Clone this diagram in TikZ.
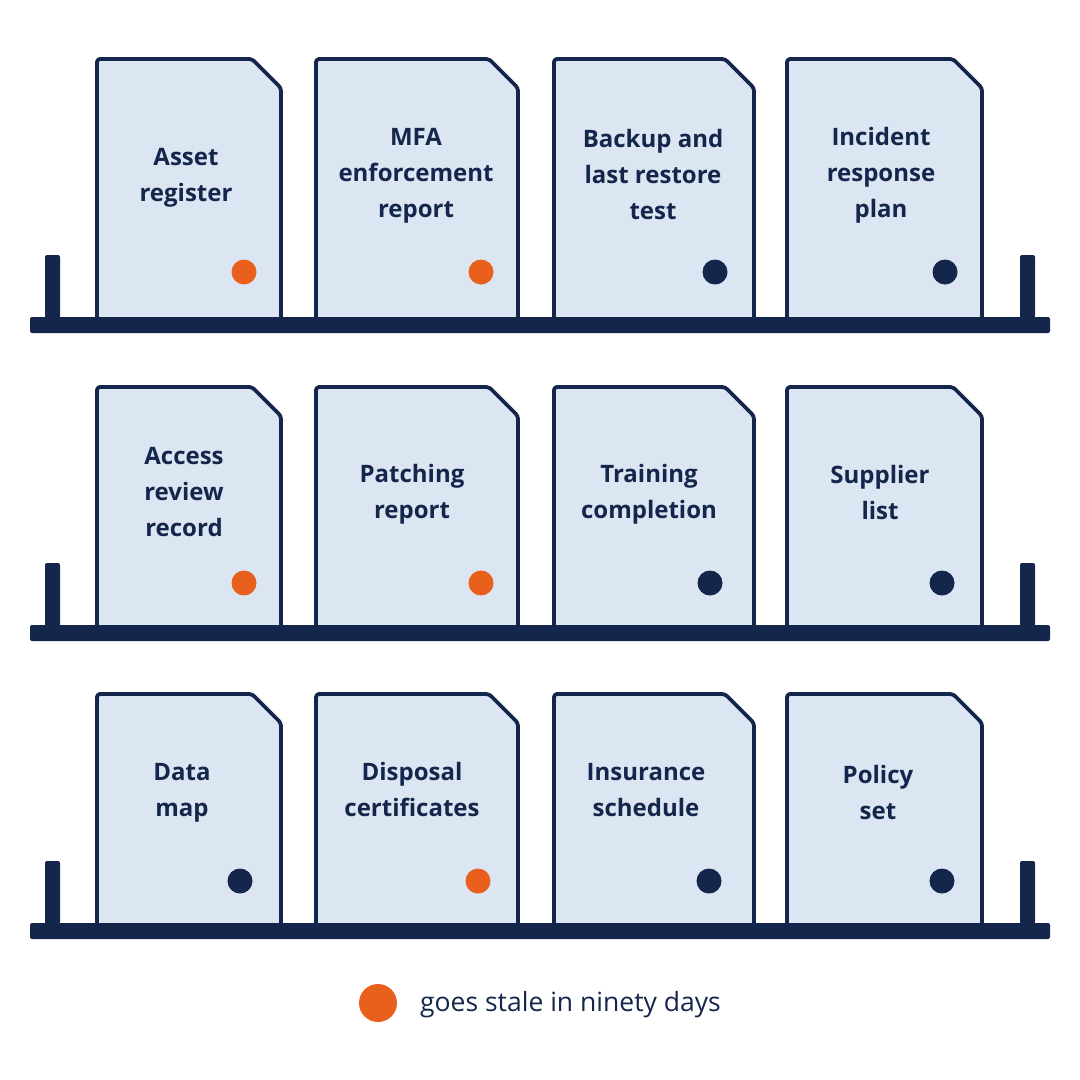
\documentclass[tikz,border=0pt]{standalone}
\usepackage{fontspec}
\setmainfont{Open Sans}
\definecolor{navy}{HTML}{14264B}
\definecolor{paper}{HTML}{DCE6F2}
\definecolor{stale}{HTML}{E8601C}
\begin{document}
\begin{tikzpicture}[x=1pt,y=-1pt,
  docframe/.style={draw=navy,fill=paper,line width=3.8pt,rounded corners=3pt,line join=round},
  doctext/.style={font=\bfseries\fontsize{24}{36}\selectfont,text=navy,align=center,inner sep=0pt},
  dotmark/.style={circle,minimum size=25pt,inner sep=0pt},
  shelfbar/.style={fill=navy,rounded corners=2pt}]
\useasboundingbox (0,0) rectangle (1080,1080);
% shelves
\foreach \r/\t/\s in {1/59/318,2/387/626,3/694/924}{
  \foreach \a/\b in {97/281,316/518,554/754,787/982}{
    \draw[docframe] (\a,\s) -- (\a,\t) -- ({\b-29},\t) -- (\b,{\t+29}) -- (\b,\s);
  }
  \fill[shelfbar] (30,\s-1) rectangle (1050,\s+15);
  \fill[shelfbar] (45,\s-63) rectangle (60,\s);
  \fill[shelfbar] (1020,\s-63) rectangle (1035,\s);
}
% row 1
\node[doctext] (t11) at (186,178) {Asset\\register};
\node[doctext] (t12) at (416,176) {MFA\\enforcement\\report};
\node[doctext] (t13) at (653,174) {Backup and\\last restore\\test};
\node[doctext] (t14) at (881,175) {Incident\\response\\plan};
% row 2
\node[doctext] (t21) at (184,492) {Access\\review\\record};
\node[doctext] (t22) at (412,494) {Patching\\report};
\node[doctext] (t23) at (649,494) {Training\\completion};
\node[doctext] (t24) at (880,492) {Supplier\\list};
% row 3
\node[doctext] (t31) at (182,793) {Data\\map};
\node[doctext] (t32) at (412,789) {Disposal\\certificates};
\node[doctext] (t33) at (646,790) {Insurance\\schedule};
\node[doctext] (t34) at (878,792) {Policy\\set};
% dots
\node[dotmark,fill=stale] (d11) at (244,272) {};
\node[dotmark,fill=stale] (d12) at (481,272) {};
\node[dotmark,fill=navy] (d13) at (715,272) {};
\node[dotmark,fill=navy] (d14) at (945,272) {};
\node[dotmark,fill=stale] (d21) at (244,583) {};
\node[dotmark,fill=stale] (d22) at (481,583) {};
\node[dotmark,fill=navy] (d23) at (710,583) {};
\node[dotmark,fill=navy] (d24) at (942,583) {};
\node[dotmark,fill=navy] (d31) at (240,881) {};
\node[dotmark,fill=stale] (d32) at (478,881) {};
\node[dotmark,fill=navy] (d33) at (709,881) {};
\node[dotmark,fill=navy] (d34) at (942,881) {};
% legend
\node[circle,minimum size=38pt,inner sep=0pt,fill=stale] (leg) at (378,1003) {};
\node[anchor=west,font=\fontsize{26.5}{30}\selectfont,text=navy,inner sep=0pt] (legtext) at (420,1005) {goes stale in ninety days};
\end{tikzpicture}
\end{document}
